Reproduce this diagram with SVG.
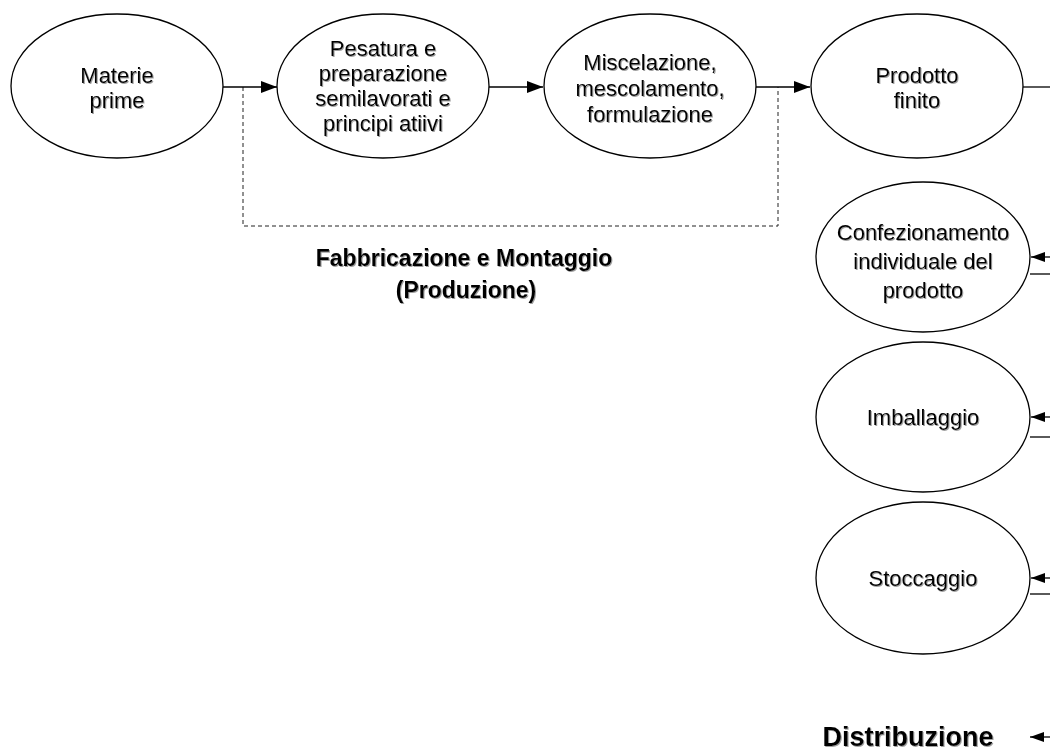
<svg xmlns="http://www.w3.org/2000/svg" width="1050" height="753" viewBox="0 0 1050 753">
  <defs>
    <marker id="arr" viewBox="0 0 16 12" refX="16" refY="6" markerWidth="16" markerHeight="12" markerUnits="userSpaceOnUse" orient="auto">
      <path d="M0,0 L16,6 L0,12 Z" fill="#000"/>
    </marker>
    <marker id="arrs" viewBox="0 0 14 10" refX="14" refY="5" markerWidth="14" markerHeight="10" markerUnits="userSpaceOnUse" orient="auto">
      <path d="M0,0 L14,5 L0,10 Z" fill="#000"/>
    </marker>
    <filter id="sh" x="-10%" y="-10%" width="120%" height="130%">
      <feDropShadow dx="1" dy="1" stdDeviation="0.6" flood-color="#777" flood-opacity="0.7"/>
    </filter>
  </defs>
  <style>
    .node ellipse { fill: #fff; stroke: #000; stroke-width: 1.3; }
    .lbl { font-family: "Liberation Sans", Arial, sans-serif; font-size: 22px; fill: #000; text-anchor: middle; filter: url(#sh); }
    .big { font-family: "Liberation Sans", Arial, sans-serif; font-size: 23px; font-weight: bold; fill: #000; text-anchor: middle; filter: url(#sh); }
    .conn line, .conn path { stroke: #000; stroke-width: 1.3; fill: none; }
    .conn .dash { stroke: #222; stroke-width: 1; stroke-dasharray: 4 3; }
  </style>
  <rect width="1050" height="753" fill="#fff"/>

  <g id="connectors" class="conn">
    <path class="dash" d="M243,87 V226 H778 V87"/>
    <line x1="223" y1="87" x2="277" y2="87" marker-end="url(#arr)"/>
    <line x1="489" y1="87" x2="543" y2="87" marker-end="url(#arr)"/>
    <line x1="756" y1="87" x2="810" y2="87" marker-end="url(#arr)"/>
    <line x1="1023" y1="87" x2="1050" y2="87"/>
    <line x1="1050" y1="257" x2="1031" y2="257" marker-end="url(#arrs)"/>
    <line x1="1030" y1="274" x2="1050" y2="274"/>
    <line x1="1050" y1="417" x2="1031" y2="417" marker-end="url(#arrs)"/>
    <line x1="1030" y1="437" x2="1050" y2="437"/>
    <line x1="1050" y1="578" x2="1031" y2="578" marker-end="url(#arrs)"/>
    <line x1="1030" y1="594" x2="1050" y2="594"/>
    <line x1="1050" y1="737" x2="1030" y2="737" marker-end="url(#arrs)"/>
  </g>

  <g id="materie" class="node">
    <ellipse cx="117" cy="86" rx="106" ry="72"/>
    <text class="lbl" x="117" y="83">Materie</text>
    <text class="lbl" x="117" y="108">prime</text>
  </g>
  <g id="pesatura" class="node">
    <ellipse cx="383" cy="86" rx="106" ry="72"/>
    <text class="lbl" x="383" y="56">Pesatura e</text>
    <text class="lbl" x="383" y="81">preparazione</text>
    <text class="lbl" x="383" y="106">semilavorati e</text>
    <text class="lbl" x="383" y="131">principi atiivi</text>
  </g>
  <g id="miscelazione" class="node">
    <ellipse cx="650" cy="86" rx="106" ry="72"/>
    <text class="lbl" x="650" y="70">Miscelazione,</text>
    <text class="lbl" x="650" y="96">mescolamento,</text>
    <text class="lbl" x="650" y="122">formulazione</text>
  </g>
  <g id="prodotto" class="node">
    <ellipse cx="917" cy="86" rx="106" ry="72"/>
    <text class="lbl" x="917" y="83">Prodotto</text>
    <text class="lbl" x="917" y="108">finito</text>
  </g>
  <g id="confezionamento" class="node">
    <ellipse cx="923" cy="257" rx="107" ry="75"/>
    <text class="lbl" x="923" y="240">Confezionamento</text>
    <text class="lbl" x="923" y="269">individuale del</text>
    <text class="lbl" x="923" y="298">prodotto</text>
  </g>
  <g id="imballaggio" class="node">
    <ellipse cx="923" cy="417" rx="107" ry="75"/>
    <text class="lbl" x="923" y="425">Imballaggio</text>
  </g>
  <g id="stoccaggio" class="node">
    <ellipse cx="923" cy="578" rx="107" ry="76"/>
    <text class="lbl" x="923" y="586">Stoccaggio</text>
  </g>
  <g id="fabbricazione">
    <text class="big" x="464" y="266">Fabbricazione e Montaggio</text>
    <text class="big" x="466" y="298">(Produzione)</text>
  </g>
  <g id="distribuzione">
    <text class="big" x="908" y="746" style="font-size:27px">Distribuzione</text>
  </g>
</svg>
